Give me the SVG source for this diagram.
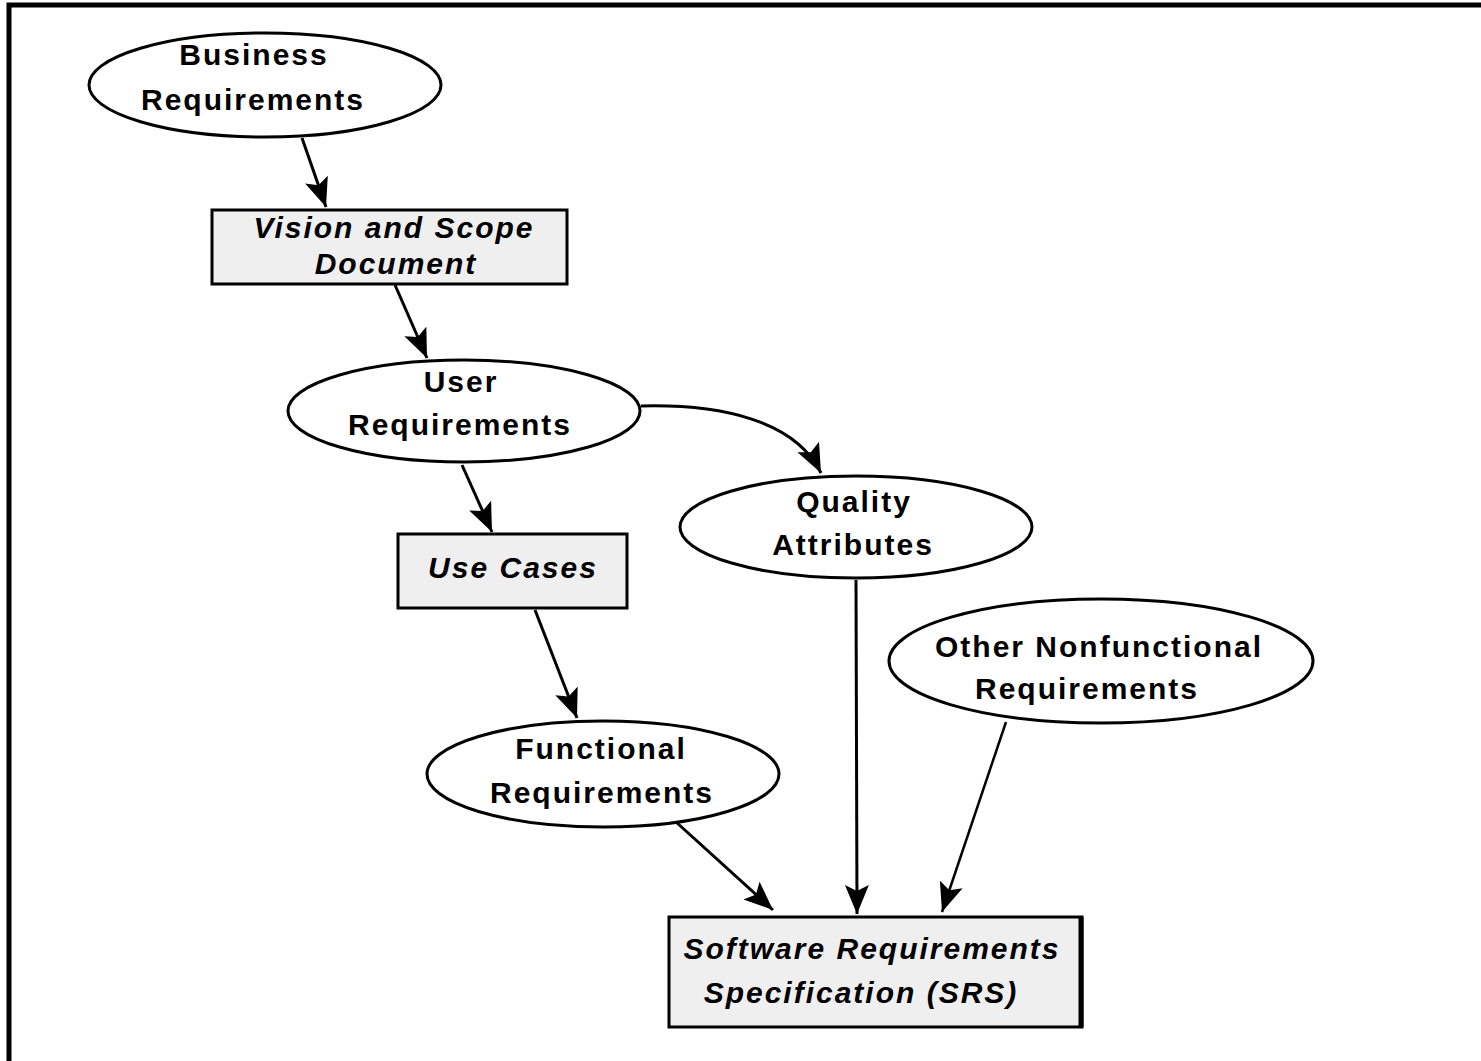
<svg xmlns="http://www.w3.org/2000/svg" width="1481" height="1061" viewBox="0 0 1481 1061">
  <style>
    .oval { fill: #ffffff; stroke: #000000; stroke-width: 3; }
    .doc { fill: #efefef; stroke: #000000; stroke-width: 3; }
    .lbl { font-family: "Liberation Sans", Arial, sans-serif; font-size: 30px; font-weight: bold; letter-spacing: 2px; text-anchor: middle; fill: #000000; }
    .it { font-style: italic; }
    .edge { fill: none; stroke: #000000; stroke-width: 3; marker-end: url(#head); }
  </style>
  <defs>
    <marker id="head" markerUnits="userSpaceOnUse" viewBox="0 -13 30 26" refX="29" refY="0" markerWidth="30" markerHeight="26" orient="auto">
      <path d="M0,-12 L29,0 L0,12 L6,0 Z" fill="#000000"/>
    </marker>
  </defs>

  <rect x="0" y="0" width="1481" height="1061" fill="#ffffff"/>
  <!-- outer frame (only top and left edges fall inside the page) -->
  <rect id="frame" x="9" y="5" width="1500" height="1100" fill="none" stroke="#000000" stroke-width="5"/>

  <g id="connectors">
    <line class="edge" x1="302" y1="138" x2="326" y2="207"/>
    <line class="edge" x1="395" y1="285" x2="427" y2="358"/>
    <line class="edge" x1="462" y1="465" x2="492" y2="532"/>
    <path class="edge" d="M641,406 C720,404 795,420 821,473"/>
    <line class="edge" x1="535" y1="610" x2="577" y2="718"/>
    <line class="edge" x1="856" y1="580" x2="857" y2="914"/>
    <line class="edge" x1="676" y1="822" x2="773" y2="910"/>
    <line class="edge" style="stroke-width:2.5" x1="1006" y1="722" x2="942" y2="912"/>
  </g>

  <g id="business-requirements">
    <ellipse class="oval" cx="265" cy="85" rx="176" ry="52"/>
    <text class="lbl" x="254" y="65">Business</text>
    <text class="lbl" x="253" y="110">Requirements</text>
  </g>

  <g id="vision-scope">
    <rect class="doc" x="212" y="210" width="355" height="74"/>
    <text class="lbl it" x="394" y="238">Vision and Scope</text>
    <text class="lbl it" x="396" y="274">Document</text>
  </g>

  <g id="user-requirements">
    <ellipse class="oval" cx="464" cy="411" rx="176" ry="51"/>
    <text class="lbl" x="461" y="392">User</text>
    <text class="lbl" x="460" y="435">Requirements</text>
  </g>

  <g id="use-cases">
    <rect class="doc" x="398" y="534" width="229" height="74"/>
    <text class="lbl it" x="513" y="578">Use Cases</text>
  </g>

  <g id="quality-attributes">
    <ellipse class="oval" cx="856" cy="527" rx="176" ry="51"/>
    <text class="lbl" x="854" y="512">Quality</text>
    <text class="lbl" x="853" y="555">Attributes</text>
  </g>

  <g id="other-nonfunctional">
    <ellipse class="oval" cx="1101" cy="661" rx="212" ry="62"/>
    <text class="lbl" x="1099" y="657">Other Nonfunctional</text>
    <text class="lbl" x="1087" y="699">Requirements</text>
  </g>

  <g id="functional-requirements">
    <ellipse class="oval" cx="603" cy="774" rx="176" ry="53"/>
    <text class="lbl" x="601" y="759">Functional</text>
    <text class="lbl" x="602" y="803">Requirements</text>
  </g>

  <g id="srs">
    <rect class="doc" x="669" y="917" width="413" height="110" stroke-width="4"/>
    <line x1="1081" y1="917" x2="1081" y2="1027" stroke="#000000" stroke-width="5"/>
    <text class="lbl it" x="872" y="959">Software Requirements</text>
    <text class="lbl it" x="861" y="1003">Specification (SRS)</text>
  </g>
</svg>
